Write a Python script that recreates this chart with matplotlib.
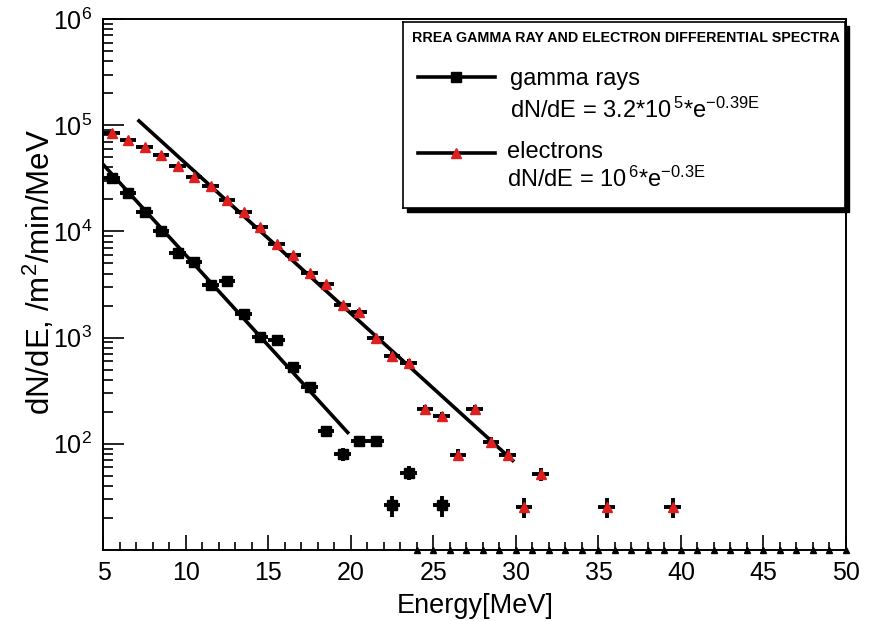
import numpy as np
import matplotlib
matplotlib.use("Agg")
import matplotlib.pyplot as plt
from matplotlib.ticker import MultipleLocator, FixedLocator, LogLocator, LogFormatterMathtext, NullFormatter
from matplotlib.patches import Rectangle
from matplotlib.lines import Line2D

plt.rcParams['font.family'] = ['Liberation Sans', 'DejaVu Sans']
plt.rcParams['mathtext.fontset'] = 'custom'
plt.rcParams['mathtext.rm'] = 'Liberation Sans'
plt.rcParams['mathtext.it'] = 'Liberation Sans'
plt.rcParams['mathtext.default'] = 'regular'

# gamma ray spectrum (bin centres in MeV, counts /m2/min/MeV)
gamma_energy = [5.5, 6.5, 7.5, 8.5, 9.5, 10.5, 11.5, 12.5, 13.5, 14.5,
                15.5, 16.5, 17.5, 18.5, 19.5, 20.5, 21.5, 22.5, 23.5, 25.5]
gamma_flux = [31600, 22900, 15300, 10100, 6300, 5200, 3130, 3440, 1670, 1010,
              950, 532, 345, 133, 80, 106, 106, 26.4, 53.5, 26.4]
gamma_relerr = [0.01, 0.01, 0.015, 0.02, 0.025, 0.03, 0.035, 0.035, 0.05, 0.06,
                0.065, 0.085, 0.1, 0.1, 0.13, 0.11, 0.11, 0.22, 0.15, 0.22]

# electron spectrum
electron_energy = [5.5, 6.5, 7.5, 8.5, 9.5, 10.5, 11.5, 12.5, 13.5, 14.5,
                   15.5, 16.5, 17.5, 18.5, 19.5, 20.5, 21.5, 22.5, 23.5, 24.5,
                   25.5, 26.5, 27.5, 28.5, 29.5, 30.5, 31.5, 35.5, 39.5]
electron_flux = [84500, 72600, 62400, 52400, 41300, 32500, 26800, 19800, 15200, 11000,
                 7600, 6000, 4060, 3200, 2030, 1740, 990, 671, 577, 213,
                 183, 78.5, 213, 104, 78.5, 25.4, 52, 25.4, 25.4]
electron_relerr = [0.01, 0.01, 0.01, 0.01, 0.01, 0.015, 0.015, 0.02, 0.02, 0.025,
                   0.03, 0.035, 0.04, 0.045, 0.055, 0.06, 0.08, 0.09, 0.1, 0.1,
                   0.1, 0.13, 0.1, 0.11, 0.13, 0.22, 0.15, 0.22, 0.22]

# empty bins drawn on the bottom edge
empty_energy = list(range(24, 51))

# exponential fits as drawn: amplitude, slope (1/MeV), energy range
gamma_fit = (3.0e5, 0.392, 5.0, 19.8)
electron_fit = (1.12e6, 0.325, 7.15, 29.8)

bin_halfwidth = 0.5
ymin, ymax = 10, 1e6
y_labelled = [1e2, 1e3, 1e4, 1e5, 1e6]

fig = plt.figure(figsize=(8.7, 6.21), dpi=100)
ax = fig.add_axes([103.5 / 870, 1 - 550 / 621, (846 - 103.5) / 870, (550 - 19) / 621])
ax.set_yscale('log')
ax.set_xlim(5, 50)
ax.set_ylim(ymin, ymax)

red = '#dd1f1f'

g_err = [f * r for f, r in zip(gamma_flux, gamma_relerr)]
ax.errorbar(gamma_energy, gamma_flux, xerr=bin_halfwidth, yerr=g_err, fmt='s',
            color='black', ms=7.5, elinewidth=2.8, capsize=0, zorder=3)

e_err = [f * r for f, r in zip(electron_flux, electron_relerr)]
ax.errorbar(electron_energy, electron_flux, xerr=bin_halfwidth, yerr=e_err, fmt='none',
            ecolor='black', elinewidth=2.8, capsize=0, zorder=3)
ax.plot(electron_energy, electron_flux, '^', color=red, ms=7.5, zorder=4)

ax.plot(empty_energy, [ymin] * len(empty_energy), '^', color='black', ms=5,
        clip_on=False, zorder=5)

for amp, slope, e0, e1 in (gamma_fit, electron_fit):
    e = np.linspace(e0, e1, 50)
    ax.plot(e, amp * np.exp(-slope * e), color='black', lw=2.6, zorder=2)

for s in ax.spines.values():
    s.set_linewidth(1.4)

ax.xaxis.set_major_locator(MultipleLocator(5))
ax.xaxis.set_minor_locator(MultipleLocator(1))
ax.yaxis.set_major_locator(FixedLocator(y_labelled))
ax.yaxis.set_minor_locator(LogLocator(base=10, subs=np.arange(2, 10), numticks=20))
ax.yaxis.set_major_formatter(LogFormatterMathtext())
ax.yaxis.set_minor_formatter(NullFormatter())
ax.tick_params(axis='x', which='major', direction='in', length=11, width=1.2, pad=8, labelsize=18)
ax.tick_params(axis='x', which='minor', direction='in', length=6, width=1.2)
ax.tick_params(axis='y', which='major', direction='in', length=15, width=1.2, pad=8, labelsize=18)
ax.tick_params(axis='y', which='minor', direction='in', length=7, width=1.2)

ax.set_xlabel('Energy[MeV]', fontsize=19.5, labelpad=6)
ax.set_ylabel('dN/dE, /m$^{2}$/min/MeV', fontsize=22.5)
ax.yaxis.set_label_coords(-0.063, 0.524)

# legend box with drop shadow
W, H = 870, 621
lx0, lx1, ly0, ly1 = 403, 845, 22, 208
shadow = Rectangle(((lx0 + 4) / W, 1 - (ly1 + 4) / H), (lx1 - lx0) / W, (ly1 - ly0) / H,
                   transform=fig.transFigure, facecolor='black', edgecolor='black', zorder=10)
fig.add_artist(shadow)
leg = fig.add_axes([lx0 / W, 1 - ly1 / H, (lx1 - lx0) / W, (ly1 - ly0) / H], zorder=11)
leg.set_xlim(0, 1)
leg.set_ylim(0, 1)
leg.set_xticks([])
leg.set_yticks([])
for s in leg.spines.values():
    s.set_linewidth(1.2)

leg.text(0.02, 0.914, 'RREA GAMMA RAY AND ELECTRON DIFFERENTIAL SPECTRA',
         fontsize=10.3, fontweight='bold', va='center', ha='left')
leg.add_line(Line2D([0.034, 0.208], [0.703, 0.703], color='black', lw=2.6))
leg.plot([0.12], [0.703], 's', color='black', ms=7)
leg.text(0.242, 0.661, 'gamma rays', fontsize=17, va='baseline')
leg.text(0.242, 0.486, 'dN/dE = 3.2*10$^{\\,5}$*e$^{-0.39E}$', fontsize=17, va='baseline')
leg.add_line(Line2D([0.034, 0.208], [0.294, 0.294], color='black', lw=2.6))
leg.plot([0.12], [0.294], '^', color=red, ms=7)
leg.text(0.236, 0.267, 'electrons', fontsize=17, va='baseline')
leg.text(0.235, 0.115, 'dN/dE = 10$^{\\,6}$*e$^{-0.3E}$', fontsize=17, va='baseline')

fig.savefig('out.png', dpi=100)
